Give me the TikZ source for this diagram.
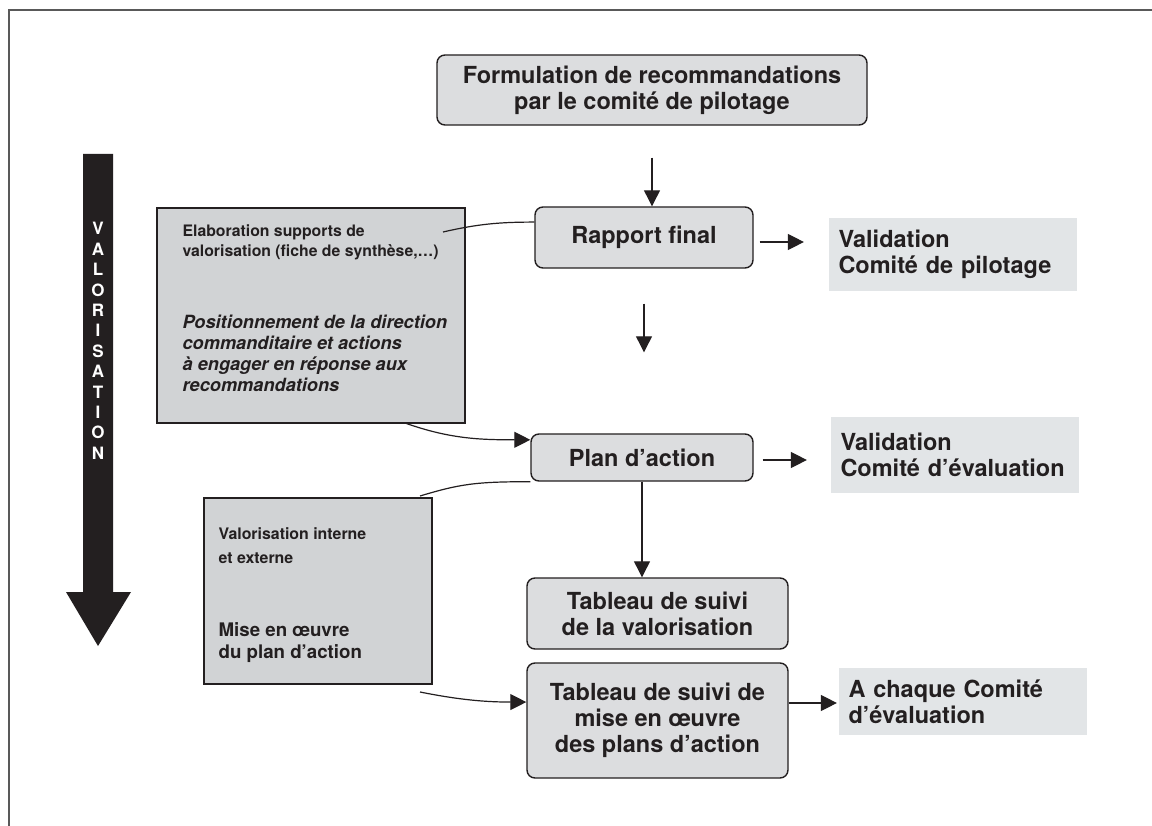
\documentclass[tikz,border=0pt]{standalone}
\usepackage{fontspec}
\setmainfont{TeX Gyre Heros}
\usetikzlibrary{arrows.meta}
\definecolor{boxgray}{HTML}{DCDDDF}
\definecolor{sidegray}{HTML}{D1D3D5}
\definecolor{valgray}{HTML}{E2E5E7}
\definecolor{ink}{HTML}{231F20}

\begin{document}
\begin{tikzpicture}[x=1pt, y=-1pt, line width=1.2pt, draw=ink,
  >={Triangle[length=16pt,width=16pt]},
  every node/.style = {align=center, text=ink,
    font=\bfseries\fontsize{23.5}{26}\selectfont},
  stepbox/.style = {draw=ink, fill=boxgray, rounded corners=8pt, line width=1.4pt},
  sidebox/.style = {draw=ink, fill=sidegray, line width=1.4pt},
  valbox/.style = {fill=valgray, align=left, inner xsep=10pt,
    minimum width=247pt, text width=228pt},
  smalltxt/.style = {anchor=west, align=left, inner sep=0pt,
    font=\bfseries\fontsize{15.8}{20}\selectfont},
  bigtxt/.style = {anchor=west, align=left, inner sep=0pt,
    font=\bfseries\fontsize{18.5}{21}\selectfont}]
%\footnotesize
\useasboundingbox[fill=white] (0,0) rectangle (1152,826);
\draw[black!65, line width=1.3pt] (9,826) -- (9,10) -- (1152,10);

% big arrow on the left
\fill[ink] (83,154) -- (113,154) -- (113,592) -- (131,592) -- (98,646)
  -- (66,592) -- (83,592) -- cycle;
\node[text=white, font=\bfseries\fontsize{17}{20.4}\selectfont] (valo) at (98,341)
  {V\\A\\L\\O\\R\\I\\S\\A\\T\\I\\O\\N};

% side boxes
\node[sidebox, minimum width=308pt, minimum height=215pt] (side1) at (311,315.5) {};
\node[smalltxt] (side1a) at (182,242) {Elaboration supports de\\valorisation (fiche de synthèse,…)};
\node[bigtxt, font=\bfseries\itshape\fontsize{18.2}{21}\selectfont] (side1b) at (182,353.5)
  {Positionnement de la direction\\commanditaire et actions\\à engager en réponse aux\\recommandations};
\node[sidebox, minimum width=228pt, minimum height=186pt] (side2) at (318,591) {};
\node[smalltxt, font=\bfseries\fontsize{15.9}{24}\selectfont] (side2a) at (218,546)
  {Valorisation interne\\et externe};
\node[bigtxt, font=\bfseries\fontsize{18.7}{22}\selectfont] (side2b) at (218,643)
  {Mise en œuvre\\du plan d’action};

% main chain
\node[stepbox, minimum width=430pt, minimum height=70pt] (recom) at (652,90)
  {Formulation de recommandations\\par le comité de pilotage};
\node[stepbox, minimum width=218pt, minimum height=61pt] (rapport) at (644,237.5)
  {Rapport final};
\node[stepbox, minimum width=222pt, minimum height=47pt] (plan) at (642,457.5)
  {Plan d’action};
\node[stepbox, minimum width=261pt, minimum height=71pt] (suivi1) at (657.5,613.5)
  {Tableau de suivi\\de la valorisation};
\node[stepbox, minimum width=261pt, minimum height=115pt] (suivi2) at (657.5,720.5)
  {Tableau de suivi de\\mise en œuvre\\des plans d’action};

% validation boxes
\node[valbox, minimum height=73pt] (val1) at (952.5,254.5) {Validation\\Comité de pilotage};
\node[valbox, minimum height=76pt] (val2) at (954.5,455) {Validation\\Comité d’évaluation};
\node[valbox, minimum height=67pt] (chaque) at (962.5,701.5) {A chaque Comité\\d’évaluation};

\coordinate (e1) at (443,232);
\coordinate (e2) at (405,423);
\coordinate (e3) at (420,496);
\coordinate (e4) at (420,692);

\draw[->, shorten <=32pt] (recom.south) -- (recom.south |- rapport.north);
\draw[->, shorten <=35pt, shorten >=81pt] (rapport.south) -- (rapport.south |- plan.north);
\draw[->] (plan.south) -- (plan.south |- suivi1.north);
\draw[->, shorten <=6pt, shorten >=24pt] (rapport.east |- 0,242) -- (val1.west |- 0,242);
\draw[->, shorten <=9pt, shorten >=23pt] (plan.east |- 0,460) -- (val2.west |- 0,460);
\draw[->, shorten >=1pt] (suivi2.east |- 0,703) -- (chaque.west |- 0,703);

\draw (e1) .. controls +(35,-8) and +(-35,0) .. (rapport.172);
\draw[->] (e2) .. controls +(45,16) and +(-50,0) .. (plan.171);
\draw (plan.south west) .. controls +(-55,0) and +(40,-12) .. (e3);
\draw[->] (e4) .. controls +(40,8) and +(-40,0) .. (suivi2.172);
\end{tikzpicture}
\end{document}
